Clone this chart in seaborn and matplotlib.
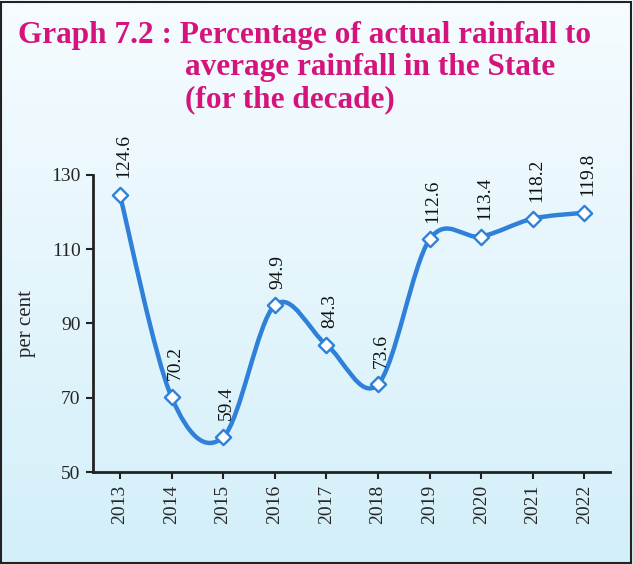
import numpy as np
import pandas as pd
import matplotlib
matplotlib.use("Agg")
import matplotlib.pyplot as plt
from matplotlib.path import Path
from matplotlib.patches import PathPatch, Rectangle
import seaborn as sns

years = ["2013", "2014", "2015", "2016", "2017", "2018", "2019", "2020", "2021", "2022"]
rainfall_pct = [124.6, 70.2, 59.4, 94.9, 84.3, 73.6, 112.6, 113.4, 118.2, 119.8]
y_ticks = [50, 70, 90, 110, 130]

df = pd.DataFrame({"year": years, "pct": rainfall_pct})
df["pos"] = np.arange(len(df))

sns.set_style("ticks")
plt.rcParams["font.family"] = ["Liberation Serif", "DejaVu Serif"]

fig = plt.figure(figsize=(6.33, 5.64), dpi=100)

# light gradient background
bg = fig.add_axes([0, 0, 1, 1], zorder=-10)
grad = np.linspace(0, 1, 256).reshape(-1, 1)
cmap = matplotlib.colors.LinearSegmentedColormap.from_list("bg", ["#f6fcff", "#d3eff9"])
bg.imshow(grad, aspect="auto", cmap=cmap, extent=[0, 1, 0, 1])
bg.axis("off")
fig.patches.append(Rectangle((0.002, 0.002), 0.995, 0.995, transform=fig.transFigure,
                             fill=False, edgecolor="#222222", linewidth=1.5))

ax = fig.add_axes([0.147, 0.163, 0.817, 0.527])
ax.patch.set_alpha(0)

line_col = "#2f80d8"

# smooth (Excel-style) curve drawn as bezier path through the data points
x = df["pos"].to_numpy(dtype=float)
y = df["pct"].to_numpy(dtype=float)
verts = [(x[0], y[0])]
codes = [Path.MOVETO]
n = len(x)
for i in range(n - 1):
    p0 = np.array([x[max(i - 1, 0)], y[max(i - 1, 0)]])
    p1 = np.array([x[i], y[i]])
    p2 = np.array([x[i + 1], y[i + 1]])
    p3 = np.array([x[min(i + 2, n - 1)], y[min(i + 2, n - 1)]])
    c1 = p1 + (p2 - p0) / 6
    c2 = p2 - (p3 - p1) / 6
    verts += [tuple(c1), tuple(c2), tuple(p2)]
    codes += [Path.CURVE4] * 3
ax.add_patch(PathPatch(Path(verts, codes), facecolor="none", edgecolor=line_col,
                       linewidth=3.2, capstyle="round", zorder=2))

sns.scatterplot(data=df, x="pos", y="pct", marker="D", s=60, color="white",
                edgecolor=line_col, linewidth=1.7, zorder=3, ax=ax, legend=False)

for xi, yi in zip(x, y):
    ax.annotate(f"{yi:.1f}", (xi, yi), xytext=(2.5, 12), textcoords="offset points",
                rotation=90, ha="center", va="bottom", fontsize=14, color="#111111",
                annotation_clip=False)

ax.set_xlim(-0.52, 9.5)
ax.set_ylim(50, 130)
ax.set_yticks(y_ticks)
ax.set_xticks(df["pos"])
ax.set_xticklabels(years, rotation=90, fontsize=14)
ax.tick_params(axis="y", labelsize=14, length=5, width=1.5, color="#222222", pad=4)
ax.tick_params(axis="x", length=5, width=1.5, color="#222222", pad=4)
ax.set_xlabel("")
ax.set_ylabel("per cent", fontsize=15)
ax.yaxis.set_label_coords(-0.11, 0.5)
sns.despine(ax=ax)
for s in ["left", "bottom"]:
    ax.spines[s].set_linewidth(2)
    ax.spines[s].set_color("#222222")

title_col = "#d4137c"
fig.text(0.028, 0.9238, "Graph 7.2 : Percentage of actual rainfall to", fontsize=22.5,
         fontweight="bold", color=title_col, va="baseline")
fig.text(0.292, 0.867, "average rainfall in the State", fontsize=22.5,
         fontweight="bold", color=title_col, va="baseline")
fig.text(0.292, 0.810, "(for the decade)", fontsize=22.5,
         fontweight="bold", color=title_col, va="baseline")

fig.savefig("out.png", dpi=100)
